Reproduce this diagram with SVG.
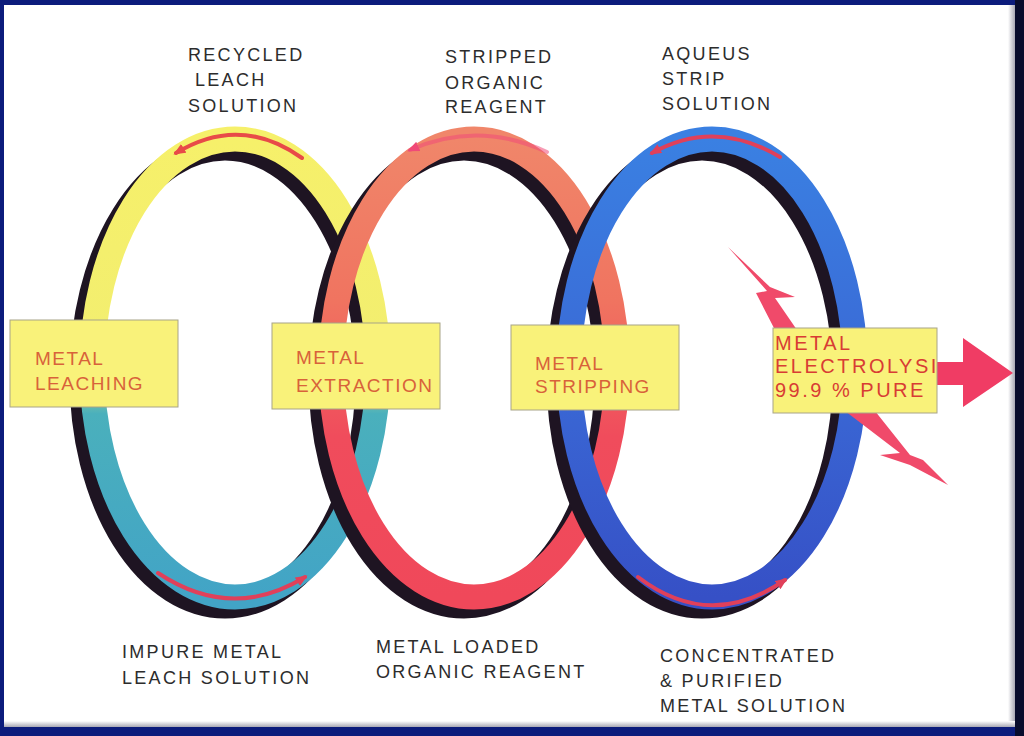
<svg xmlns="http://www.w3.org/2000/svg" width="1024" height="736" viewBox="0 0 1024 736">
  <defs>
    <linearGradient id="g1" x1="0" y1="0" x2="0" y2="1">
      <stop offset="0" stop-color="#f6f06a"/>
      <stop offset="0.48" stop-color="#f2ee70"/>
      <stop offset="0.6" stop-color="#4ab0bc"/>
      <stop offset="1" stop-color="#42a4c6"/>
    </linearGradient>
    <linearGradient id="g2" x1="0" y1="0" x2="0" y2="1">
      <stop offset="0" stop-color="#f0866a"/>
      <stop offset="0.35" stop-color="#f07460"/>
      <stop offset="0.65" stop-color="#f04c5c"/>
      <stop offset="1" stop-color="#f0485a"/>
    </linearGradient>
    <linearGradient id="g3" x1="0" y1="0" x2="0" y2="1">
      <stop offset="0" stop-color="#3a80e2"/>
      <stop offset="0.5" stop-color="#3a6ad6"/>
      <stop offset="1" stop-color="#3650c6"/>
    </linearGradient>
    <linearGradient id="shR" x1="0" y1="0" x2="1" y2="0">
      <stop offset="0" stop-color="#ffffff"/>
      <stop offset="1" stop-color="#a8a8b4"/>
    </linearGradient>
    <linearGradient id="shB" x1="0" y1="0" x2="0" y2="1">
      <stop offset="0" stop-color="#ffffff"/>
      <stop offset="1" stop-color="#a8a8b4"/>
    </linearGradient>
    <marker id="ah" markerUnits="userSpaceOnUse" markerWidth="12" markerHeight="10" refX="9" refY="5" orient="auto">
      <path d="M0,0 L12,5 L0,10 z" fill="context-stroke"/>
    </marker>
    <marker id="ahr" markerUnits="userSpaceOnUse" markerWidth="12" markerHeight="10" refX="9" refY="5" orient="auto">
      <path d="M0,0 L12,5 L0,10 z" fill="#e0405a"/>
    </marker>
    <marker id="aho" markerUnits="userSpaceOnUse" markerWidth="12" markerHeight="10" refX="9" refY="5" orient="auto">
      <path d="M0,0 L12,5 L0,10 z" fill="#e84a48"/>
    </marker>
    <marker id="ahp" markerUnits="userSpaceOnUse" markerWidth="12" markerHeight="10" refX="9" refY="5" orient="auto">
      <path d="M0,0 L12,5 L0,10 z" fill="#f04a78"/>
    </marker>
    <clipPath id="clip4">
      <rect x="773" y="328" width="164" height="85"/>
    </clipPath>
    <style>
      .ring { fill: none; stroke-width: 25; }
      .shadow { fill: none; stroke: #1e1422; stroke-width: 25; }
      .box { fill: #f9f27a; stroke: #a8a488; stroke-width: 1; }
      .btxt { font-family: "Liberation Sans", Arial, sans-serif; font-size: 19px; letter-spacing: 1.5px; fill: #d8623a; }
      .btxt4 { font-family: "Liberation Sans", Arial, sans-serif; font-size: 20px; letter-spacing: 2.5px; fill: #d83c34; }
      .lbl { font-family: "Liberation Sans", Arial, sans-serif; font-size: 18px; letter-spacing: 2.3px; fill: #2c2c2c; }
      .flow { fill: none; stroke-width: 4; stroke-linecap: round; }
    </style>
  </defs>

  <!-- frame -->
  <rect x="0" y="0" width="1024" height="736" fill="#0c1c7c"/>
  <rect x="1015" y="0" width="9" height="736" fill="#080c2c"/>
  <rect x="4" y="5" width="1011" height="722" fill="#ffffff"/>
  <rect x="1008" y="5" width="7" height="722" fill="url(#shR)"/>
  <rect x="4" y="721" width="1011" height="6" fill="url(#shB)"/>

  <!-- rings -->
  <g id="ring-leaching">
    <ellipse class="shadow" cx="225" cy="377" rx="143" ry="229"/>
    <ellipse class="ring" cx="235" cy="368" rx="143" ry="229" stroke="url(#g1)"/>
  </g>
  <g id="ring-extraction">
    <ellipse class="shadow" cx="464" cy="377" rx="143" ry="229"/>
    <ellipse class="ring" cx="474" cy="368" rx="143" ry="229" stroke="url(#g2)"/>
  </g>
  <g id="ring-stripping">
    <ellipse class="shadow" cx="702" cy="377" rx="143" ry="229"/>
    <ellipse class="ring" cx="712" cy="368" rx="143" ry="229" stroke="url(#g3)"/>
  </g>

  <!-- connectors: flow arrows and output -->
  <g id="connectors">
    <path class="flow" d="M 302 158 Q 240 114 176 153" stroke="#e84a48" marker-end="url(#aho)"/>
    <path class="flow" d="M 158 573 Q 232 622 305 577" stroke="#e0405a" marker-end="url(#ahr)"/>
    <path class="flow" d="M 547 152 Q 478 120 410 150" stroke="#f04a78" stroke-opacity="0.55" marker-end="url(#ahp)"/>
    <path class="flow" d="M 780 157 Q 715 118 652 153" stroke="#e0405a" marker-end="url(#ahr)"/>
    <path class="flow" d="M 638 577 Q 710 632 785 580" stroke="#e0405a" marker-end="url(#ahr)"/>
    <!-- lightning bolt -->
    <polygon points="728,247 770,287 795,297 775,298 797,330 775,330 756,293 767,291" fill="#f04a6a"/>
    <polygon points="845,411 875,411 910,455 923,460 948,485 910,465 880,455 900,453" fill="#f04a6a"/>
    <!-- output arrow -->
    <polygon points="937,362 963,362 963,338 1013,373 963,407 963,385 937,385" fill="#f03c64"/>
  </g>

  <!-- boxes -->
  <g id="node-leaching">
    <rect class="box" x="10" y="320" width="168" height="87"/>
    <text class="btxt" x="35" y="365">METAL</text>
    <text class="btxt" x="35" y="390">LEACHING</text>
  </g>
  <g id="node-extraction">
    <rect class="box" x="272" y="323" width="168" height="86"/>
    <text class="btxt" x="296" y="364">METAL</text>
    <text class="btxt" x="296" y="392">EXTRACTION</text>
  </g>
  <g id="node-stripping">
    <rect class="box" x="511" y="325" width="168" height="85"/>
    <text class="btxt" x="535" y="370">METAL</text>
    <text class="btxt" x="535" y="393">STRIPPING</text>
  </g>
  <g id="node-electrolysis">
    <rect class="box" x="773" y="328" width="164" height="85"/>
    <g clip-path="url(#clip4)">
      <text class="btxt4" x="775" y="350">METAL</text>
      <text class="btxt4" x="775" y="373">ELECTROLYSIS</text>
      <text class="btxt4" x="775" y="397">99.9 % PURE</text>
    </g>
  </g>

  <!-- labels -->
  <g id="label-recycled">
    <text class="lbl" x="188" y="61">RECYCLED</text>
    <text class="lbl" x="195" y="86">LEACH</text>
    <text class="lbl" x="188" y="112">SOLUTION</text>
  </g>
  <g id="label-stripped">
    <text class="lbl" x="445" y="63">STRIPPED</text>
    <text class="lbl" x="445" y="89">ORGANIC</text>
    <text class="lbl" x="445" y="113">REAGENT</text>
  </g>
  <g id="label-aqueus">
    <text class="lbl" x="662" y="60">AQUEUS</text>
    <text class="lbl" x="662" y="85">STRIP</text>
    <text class="lbl" x="662" y="110">SOLUTION</text>
  </g>
  <g id="label-impure">
    <text class="lbl" x="122" y="658">IMPURE METAL</text>
    <text class="lbl" x="122" y="684">LEACH SOLUTION</text>
  </g>
  <g id="label-loaded">
    <text class="lbl" x="376" y="653">METAL LOADED</text>
    <text class="lbl" x="376" y="678">ORGANIC REAGENT</text>
  </g>
  <g id="label-concentrated">
    <text class="lbl" x="660" y="662">CONCENTRATED</text>
    <text class="lbl" x="660" y="687">&amp; PURIFIED</text>
    <text class="lbl" x="660" y="712">METAL SOLUTION</text>
  </g>
</svg>
